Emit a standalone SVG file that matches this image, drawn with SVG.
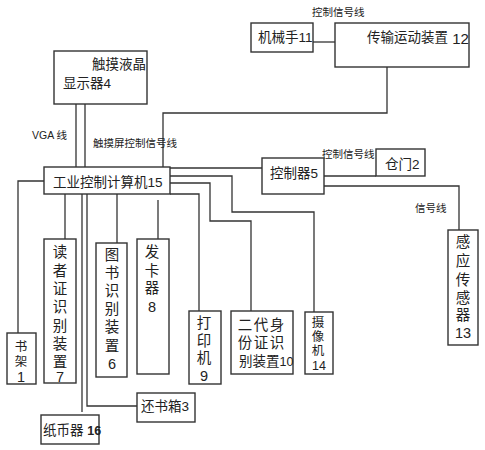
<svg xmlns="http://www.w3.org/2000/svg" width="485" height="450" viewBox="0 0 485 450">
<style>
.b{fill:#fff;stroke:#333;stroke-width:1.4}
.c{fill:none;stroke:#333;stroke-width:1.3}
text{font-family:"Liberation Sans","Noto Sans CJK SC",sans-serif;fill:#222}
.t{font-size:13.5px}
.v{font-size:14.5px;text-anchor:middle}
.s{font-size:10.5px}
.sm{font-size:12.5px;text-anchor:middle}
</style>
<rect width="485" height="450" fill="#fff"/>
<g id="connectors">
<path class="c" d="M313,42H335"/>
<path class="c" d="M387,67V113H163V167"/>
<path class="c" d="M76,104V167M85,104V167"/>
<path class="c" d="M170,168H262"/>
<path class="c" d="M170,176H232V212H314V312"/>
<path class="c" d="M170,183H210V221H251V311"/>
<path class="c" d="M170,194H199V311"/>
<path class="c" d="M44,181H18V333"/>
<path class="c" d="M65,194V239"/>
<path class="c" d="M82,194V412"/>
<path class="c" d="M87,194V406H137"/>
<path class="c" d="M117,194V243"/>
<path class="c" d="M158,200V239"/>
<path class="c" d="M324,176H376"/>
<path class="c" d="M324,186H459V230"/>
</g>
<g id="labels">
<text class="s" x="312" y="16">控制信号线</text>
<text class="s" x="32" y="139">VGA 线</text>
<text class="s" x="93" y="147">触摸屏控制信号线</text>
<text class="s" x="322" y="158">控制信号线</text>
<text class="s" x="415" y="212">信号线</text>
</g>
<g id="n11"><rect class="b" x="251" y="23" width="62" height="29"/><text class="t" x="258" y="42">机械手11</text></g>
<g id="n12"><rect class="b" x="335" y="23" width="134" height="44"/><text class="t" x="367" y="42">传输运动装置<tspan font-size="15" dy="2"> 12</tspan></text></g>
<g id="n4"><rect class="b" x="54" y="51" width="93" height="53"/><text class="t" x="92" y="69">触摸液晶</text><text class="t" x="63" y="88">显示器4</text></g>
<g id="n15"><rect class="b" x="44" y="167" width="126" height="27"/><text class="t" x="53" y="187">工业控制计算机15</text></g>
<g id="n5"><rect class="b" x="262" y="158" width="62" height="36"/><text class="t" x="270" y="178">控制器5</text></g>
<g id="n2"><rect class="b" x="376" y="149" width="49" height="27"/><text class="t" x="385" y="169">仓门2</text></g>
<g id="n13"><rect class="b" x="448" y="230" width="30" height="115"/>
<text class="v" x="463" y="247">感</text><text class="v" x="463" y="266">应</text><text class="v" x="463" y="285">传</text><text class="v" x="463" y="303">感</text><text class="v" x="463" y="320">器</text><text class="v" x="463" y="338">13</text></g>
<g id="n1"><rect class="b" x="7" y="333" width="29" height="51"/>
<text class="sm" x="21" y="351">书</text><text class="sm" x="21" y="366">架</text><text class="v" x="21" y="382" font-size="12">1</text></g>
<g id="n7"><rect class="b" x="44" y="239" width="32" height="144"/>
<text class="v" x="60" y="257">读</text><text class="v" x="60" y="276">者</text><text class="v" x="60" y="294">证</text><text class="v" x="60" y="312">识</text><text class="v" x="60" y="331">别</text><text class="v" x="60" y="349">装</text><text class="v" x="60" y="367">置</text><text class="v" x="60" y="382" font-size="12">7</text></g>
<g id="n6"><rect class="b" x="96" y="243" width="31" height="134"/>
<text class="v" x="112" y="260">图</text><text class="v" x="112" y="278">书</text><text class="v" x="112" y="296">识</text><text class="v" x="112" y="314">别</text><text class="v" x="112" y="332">装</text><text class="v" x="112" y="351">置</text><text class="v" x="112" y="369">6</text></g>
<g id="n8"><rect class="b" x="137" y="239" width="32" height="135"/>
<text class="v" x="152" y="257">发</text><text class="v" x="152" y="276">卡</text><text class="v" x="152" y="293">器</text><text class="v" x="152" y="312">8</text></g>
<g id="n9"><rect class="b" x="189" y="311" width="32" height="73"/>
<text class="v" x="204" y="328">打</text><text class="v" x="204" y="346">印</text><text class="v" x="204" y="363">机</text><text class="v" x="204" y="381">9</text></g>
<g id="n10"><rect class="b" x="231" y="311" width="62" height="63"/>
<text class="v" x="245" y="330">二</text><text class="v" x="261" y="330">代</text><text class="v" x="277" y="330">身</text>
<text class="v" x="245" y="348">份</text><text class="v" x="261" y="348">证</text><text class="v" x="277" y="348">识</text>
<text class="t" x="239" y="366">别装置<tspan font-size="12.5">10</tspan></text></g>
<g id="n14"><rect class="b" x="305" y="312" width="28" height="62"/>
<text class="sm" x="318" y="327">摄</text><text class="sm" x="318" y="341">像</text><text class="sm" x="318" y="355">机</text><text class="sm" x="319" y="370" font-size="12">14</text></g>
<g id="n16"><rect class="b" x="41" y="415" width="58" height="29"/><text class="t" x="43" y="435">纸币器 <tspan font-weight="bold" font-size="12.5">16</tspan></text></g>
<g id="n3"><rect class="b" x="137" y="393" width="58" height="29"/><text class="t" x="141" y="411">还书箱3</text></g>
</svg>
